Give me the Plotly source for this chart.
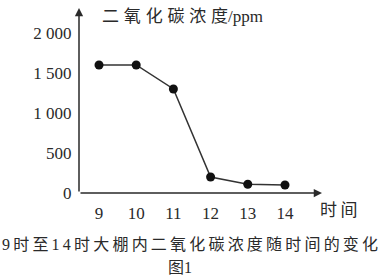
import plotly.graph_objects as go

hours = [9, 10, 11, 12, 13, 14]
co2 = [1600, 1600, 1300, 200, 110, 100]
y_ticks = [0, 500, 1000, 1500, 2000]
y_tick_text = ["0", "500", "1 000", "1 500", "2 000"]
x_ticks = [9, 10, 11, 12, 13, 14]
x_tick_text = ["9", "10", "11", "12", "13", "14"]

SERIF = "Liberation Serif, Noto Sans CJK SC, serif"
ink = "#2a2a2a"

W, H = 384, 279
L, R, T, B = 79, 62, 8, 86
pw, ph = W - L - R, H - T - B

def px(x):
    return (x - L) / pw

def py(y):
    return (H - B - y) / ph

def spaced(s, sep="\u2009"):
    return sep.join(list(s))

fig = go.Figure()
fig.add_trace(go.Scatter(
    x=hours, y=co2, mode="lines+markers",
    line=dict(color="#333333", width=1.5),
    marker=dict(color="#111111", size=9),
    hoverinfo="skip", showlegend=False, cliponaxis=False,
))

xr = [8.462, 14.995]
yr = [0, 2312]

fig.update_layout(
    width=W, height=H,
    margin=dict(l=L, r=R, t=T, b=B),
    plot_bgcolor="white", paper_bgcolor="white",
    xaxis=dict(range=xr, showgrid=False, zeroline=False, showline=False,
               tickmode="array", tickvals=x_ticks, ticktext=x_tick_text,
               ticks="outside", ticklen=5, tickcolor="rgba(0,0,0,0)",
               tickfont=dict(family=SERIF, size=17, color=ink)),
    yaxis=dict(range=yr, showgrid=False, zeroline=False, showline=False,
               tickmode="array", tickvals=y_ticks, ticktext=y_tick_text,
               ticks="outside", ticklen=3, tickcolor="rgba(0,0,0,0)",
               tickfont=dict(family=SERIF, size=17, color=ink)),
)

# axes with arrows
fig.add_annotation(x=xr[1], y=0, ax=xr[0], ay=0, xref="x", yref="y", axref="x", ayref="y",
                   showarrow=True, arrowhead=2, arrowsize=1.1, arrowwidth=1.5, arrowcolor=ink, text="")
fig.add_annotation(x=xr[0], y=yr[1], ax=xr[0], ay=0, xref="x", yref="y", axref="x", ayref="y",
                   showarrow=True, arrowhead=2, arrowsize=1.1, arrowwidth=1.5, arrowcolor=ink, text="")

fig.add_annotation(x=px(100), y=py(16), xref="paper", yref="paper", xanchor="left", yanchor="middle",
                   text=spaced("二氧化碳浓度", "\u2009\u200a") + "/ppm", showarrow=False,
                   font=dict(family=SERIF, size=17, color=ink))
fig.add_annotation(x=px(318), y=py(210), xref="paper", yref="paper", xanchor="left", yanchor="middle",
                   text=spaced("时间"), showarrow=False,
                   font=dict(family=SERIF, size=17, color=ink))
fig.add_annotation(x=px(0), y=py(244), xref="paper", yref="paper", xanchor="left", yanchor="middle",
                   text=spaced("9时至14时大棚内二氧化碳浓度随时间的变化"), showarrow=False,
                   font=dict(family=SERIF, size=16, color=ink))
fig.add_annotation(x=px(180), y=py(267), xref="paper", yref="paper", xanchor="center", yanchor="middle",
                   text="图1", showarrow=False,
                   font=dict(family=SERIF, size=16, color=ink))

fig.write_html("out.html")
